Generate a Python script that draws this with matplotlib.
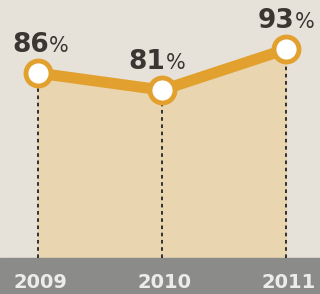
import matplotlib.pyplot as plt
from matplotlib.transforms import offset_copy

years = ['2009', '2010', '2011']
values = [86, 81, 93]
numbers = ['86', '81', '93']

x = list(range(len(years)))
base = 31.6

fig = plt.figure(figsize=(3.2, 2.94), dpi=100)
fig.patch.set_facecolor('#e7e2d9')
ax = fig.add_axes([0, 0, 1, 1])
ax.set_facecolor('#e7e2d9')
ax.set_xlim(-0.306, 2.274)
ax.set_ylim(21.0, 107.5)
ax.axis('off')

# shaded area under the line
ax.fill_between(x, values, base, color='#e9d6b1', zorder=1)

# dashed drop lines
for xi, v in zip(x, values):
    ax.plot([xi, xi], [base, v], color='#222222', lw=1.3, ls=(0, (2, 2)), zorder=2)

ax.plot(x, values, color='#e2a12f', lw=8, solid_capstyle='round', zorder=3)
ax.plot(x, values, 'o', ms=18, mfc='white', mec='#e2a12f', mew=3.5, zorder=4)

# value labels: bold number + lighter percent sign, centred as a pair
renderer = fig.canvas.get_renderer()
offsets = [0.02, -0.04, 0.0]
gap = 0
for xi, v, num, dx in zip(x, values, numbers, offsets):
    t1 = ax.text(xi + dx, v + 8.2, num, ha='left', va='center', fontsize=19,
                 fontweight='bold', color='#3a3631', family='DejaVu Sans', zorder=5)
    t2 = ax.text(xi + dx, v + 8.2, '%', ha='left', va='center', fontsize=15,
                 color='#3a3631', family='DejaVu Sans', zorder=5)
    w1 = t1.get_window_extent(renderer).width
    w2 = t2.get_window_extent(renderer).width
    total = w1 + gap + w2
    t1.set_transform(offset_copy(ax.transData, fig=fig, x=-total / 2, units='dots'))
    t2.set_transform(offset_copy(ax.transData, fig=fig, x=-total / 2 + w1 + gap, y=-1, units='dots'))

# bottom band with year labels
ax.axhspan(21.0, base, color='#8b8b89', zorder=1)
for xi, yr in zip(x, years):
    ax.text(xi + 0.02, 24.4, yr, ha='center', va='center', fontsize=14,
            fontweight='bold', color='#ececea', family='DejaVu Sans', zorder=5)

fig.savefig('out.png', dpi=100, facecolor=fig.get_facecolor())
